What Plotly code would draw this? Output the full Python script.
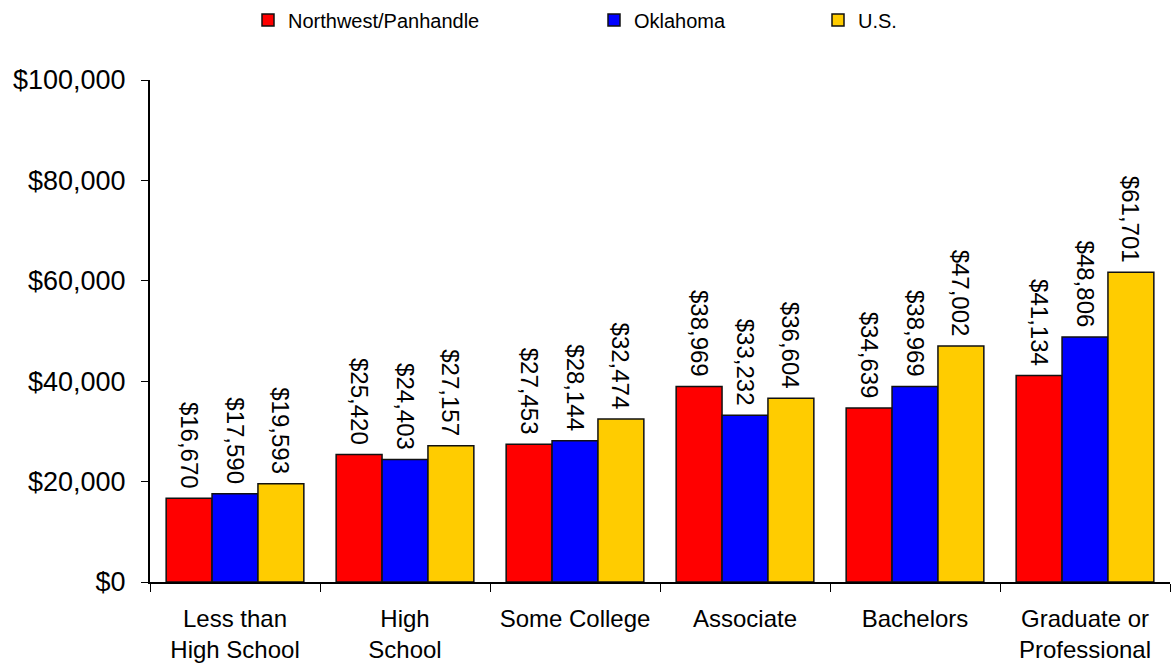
import plotly.graph_objects as go

categories = ['Less than<br>High School', 'High<br>School', 'Some College',
              'Associate', 'Bachelors', 'Graduate or<br>Professional']
northwest = [16670, 25420, 27453, 38969, 34639, 41134]
oklahoma = [17590, 24403, 28144, 33232, 38969, 48806]
us = [19593, 27157, 32474, 36604, 47002, 61701]

series = [('Northwest/Panhandle', northwest, '#FF0000', 'legend', 248),
          ('Oklahoma', oklahoma, '#0000FF', 'legend2', 594),
          ('U.S.', us, '#FFCC00', 'legend3', 818)]

fig = go.Figure()
legends = {}
for name, vals, color, leg, lx in series:
    fig.add_trace(go.Bar(
        x=categories, y=vals, name=name, legend=leg,
        marker=dict(color=color, line=dict(color='#111', width=1.5)),
        text=[f'${v:,}\u00a0' for v in vals], textposition='outside', textangle=90,
        textfont=dict(size=24, color='black'), constraintext='none', cliponaxis=False))
    legends[leg] = dict(orientation='h', x=lx / 1175, xanchor='left', xref='container',
                        y=1 - 20 / 666, yanchor='middle', yref='container',
                        font=dict(size=20), itemwidth=30, bgcolor='rgba(0,0,0,0)')

fig.update_layout(
    width=1175, height=666,
    margin=dict(l=150, r=5, t=80, b=84, autoexpand=False),
    paper_bgcolor='white', plot_bgcolor='white',
    font=dict(family='Liberation Sans, Arial', size=20, color='black'),
    barmode='group', bargap=0.19, bargroupgap=0,
    showlegend=True,
    xaxis=dict(showline=True, linecolor='black', linewidth=2, ticks='outside',
               tickson='boundaries', ticklen=8, tickcolor='black', automargin=False,
               ticklabelstandoff=14, tickfont=dict(size=24)),
    yaxis=dict(range=[0, 100000], dtick=20000, tickprefix='$', tickformat=',',
               showline=True, linecolor='black', linewidth=2, ticks='outside',
               ticklen=7, tickcolor='black', showgrid=False, zeroline=False,
               automargin=False, ticklabelstandoff=10, tickfont=dict(size=27)),
    **legends)

# page body has a default 8px margin; drop it so the figure fills the window
fig.write_html("out.html", config={'displayModeBar': False},
               post_script="document.body.style.margin='0';")
